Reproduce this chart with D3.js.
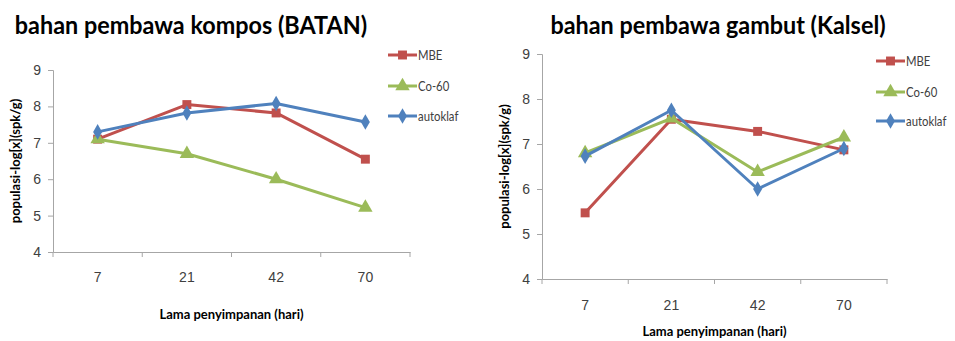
<!DOCTYPE html>
<html>
<head>
<meta charset="utf-8">
<script src="https://cdn.jsdelivr.net/npm/d3@7.9.0/dist/d3.min.js"></script>
<style>
  body { margin: 0; background: #fff; }
  svg { display: block; font-family: Lato, "Open Sans", sans-serif; }
</style>
</head>
<body>
<svg id="chart" width="955" height="341"></svg>
<script>
const days = ['7', '21', '42', '70'];
const seriesNames = ['MBE', 'Co-60', 'autoklaf'];
const yTicks = [4, 5, 6, 7, 8, 9];

// bahan pembawa kompos (BATAN)
const komposMBE = [7.1, 8.05, 7.82, 6.55];
const komposCo60 = [7.1, 6.7, 6.0, 5.22];
const komposAutoklaf = [7.3, 7.82, 8.08, 7.57];

// bahan pembawa gambut (Kalsel)
const gambutMBE = [5.47, 7.55, 7.28, 6.87];
const gambutCo60 = [6.8, 7.57, 6.38, 7.15];
const gambutAutoklaf = [6.73, 7.75, 6.0, 6.9];

const colors = ['#c0504d', '#9bbb59', '#4f81bd'];
const symbols = [d3.symbolSquare, d3.symbolTriangle, d3.symbolDiamond];
const symSizes = [80, 90, 70];

const svg = d3.select('#chart');

// squeeze text a little so Lato looks closer to the narrow original face
function condense(sel, k) {
  sel.each(function () {
    const w = this.getComputedTextLength();
    d3.select(this).attr('textLength', w * k).attr('lengthAdjust', 'spacingAndGlyphs');
  });
}

function drawPanel(opts) {
  const g = svg.append('g');
  const x = d3.scaleBand().domain(days).range([opts.x0, opts.x1]);
  const y = d3.scaleLinear().domain([4, 9]).range([opts.yBottom, opts.yTop]);

  // axes
  const yAxis = g.append('g')
    .attr('transform', `translate(${opts.x0},0)`)
    .call(d3.axisLeft(y).tickValues(yTicks).tickFormat(d3.format('d')).tickSize(5).tickPadding(7));
  const xAxis = g.append('g')
    .attr('transform', `translate(0,${opts.yBottom})`)
    .call(d3.axisBottom(x).tickSize(0).tickPadding(opts.xPad));
  [yAxis, xAxis].forEach(a => {
    a.select('.domain').attr('stroke', '#a6a6a6');
    a.selectAll('.tick line').attr('stroke', '#a6a6a6');
    a.selectAll('text').attr('fill', '#404040').style('font-size', '14px');
  });
  // tick marks between categories
  const bounds = days.map(d => x(d)).concat([opts.x1]);
  g.selectAll('.bt').data(bounds).join('line')
    .attr('x1', d => d).attr('x2', d => d)
    .attr('y1', opts.yBottom).attr('y2', opts.yBottom + 5)
    .attr('stroke', '#a6a6a6');

  // series
  const line = d3.line()
    .x((d, i) => x(days[i]) + x.bandwidth() / 2)
    .y(d => y(d));
  opts.series.forEach((vals, s) => {
    g.append('path')
      .attr('d', line(vals))
      .attr('fill', 'none')
      .attr('stroke', colors[s])
      .attr('stroke-width', 3)
      .attr('stroke-linejoin', 'round');
    g.selectAll(null).data(vals).join('path')
      .attr('transform', (d, i) => `translate(${x(days[i]) + x.bandwidth() / 2},${y(d)})`)
      .attr('d', d3.symbol(symbols[s], symSizes[s]))
      .attr('fill', colors[s]);
  });

  // titles
  svg.append('text')
    .attr('x', opts.titleX).attr('y', 34)
    .attr('text-anchor', 'middle')
    .style('font-size', '25px').style('font-weight', 'bold')
    .attr('fill', '#000')
    .text(opts.title)
    .call(condense, 0.935);
  svg.append('text')
    .attr('x', (opts.x0 + opts.x1) / 2).attr('y', opts.xTitleY)
    .attr('text-anchor', 'middle')
    .style('font-size', '13px').style('font-weight', 'bold')
    .text('Lama penyimpanan (hari)');
  svg.append('text')
    .attr('transform', `translate(${opts.yTitleX},${(opts.yTop + opts.yBottom) / 2}) rotate(-90)`)
    .attr('text-anchor', 'middle')
    .style('font-size', '13px').style('font-weight', 'bold')
    .text('populasi-log[x](spk/g)');

  // legend
  seriesNames.forEach((name, s) => {
    const ly = opts.legendY[s];
    const lg = svg.append('g');
    lg.append('line')
      .attr('x1', opts.legendX).attr('x2', opts.legendX + 29)
      .attr('y1', ly).attr('y2', ly)
      .attr('stroke', colors[s]).attr('stroke-width', 3);
    lg.append('path')
      .attr('transform', `translate(${opts.legendX + 14.5},${ly})`)
      .attr('d', d3.symbol(symbols[s], symSizes[s]))
      .attr('fill', colors[s]);
    lg.append('text')
      .attr('x', opts.legendX + 30).attr('y', ly)
      .attr('dy', '0.35em')
      .attr('fill', '#404040')
      .style('font-size', '13.5px')
      .text(name)
      .call(condense, 0.84);
  });
}

drawPanel({
  title: 'bahan pembawa kompos (BATAN)',
  titleX: 191,
  x0: 53, x1: 410, yTop: 70, yBottom: 252,
  xPad: 20, xTitleY: 319, yTitleX: 20,
  legendX: 388, legendY: [55, 86, 116],
  series: [komposMBE, komposCo60, komposAutoklaf]
});

drawPanel({
  title: 'bahan pembawa gambut (Kalsel)',
  titleX: 718,
  x0: 542, x1: 887, yTop: 54, yBottom: 279,
  xPad: 21, xTitleY: 336, yTitleX: 509,
  legendX: 876, legendY: [61, 92, 121],
  series: [gambutMBE, gambutCo60, gambutAutoklaf]
});
</script>
</body>
</html>
